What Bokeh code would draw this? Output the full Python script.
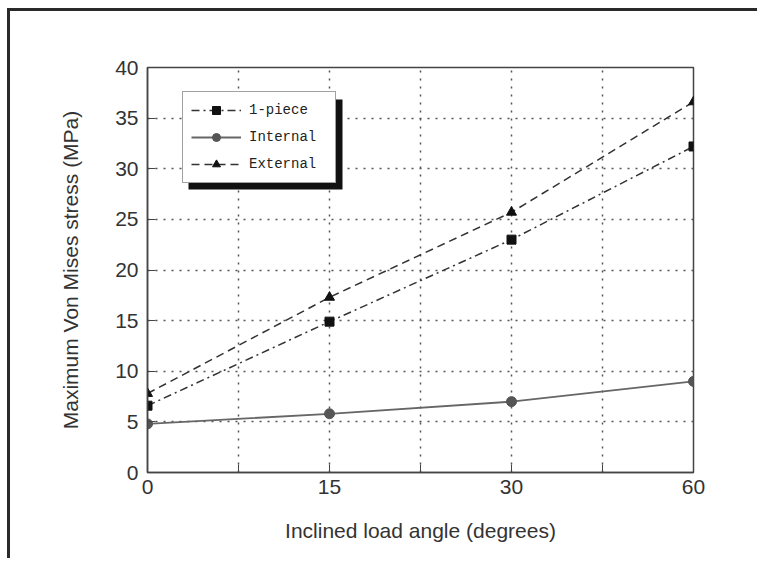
from bokeh.plotting import figure
from bokeh.models import Range1d, FixedTicker, Legend, LegendItem, BoxAnnotation
from bokeh.embed import file_html
from bokeh.resources import INLINE

# ---- data ----
angles = ["0", "15", "30", "60"]          # inclined load angle (degrees), evenly spaced categories
xpos = [0, 1, 2, 3]
one_piece = [6.6, 14.9, 23.0, 32.2]
internal = [4.8, 5.8, 7.0, 9.0]
external = [7.8, 17.3, 25.7, 36.6]
y_ticks = [0, 5, 10, 15, 20, 25, 30, 35, 40]

FW, FH = 546, 405  # frame size in px
W, H = 750, 550
ML, MT = 137, 56
p = figure(width=W, height=H, output_backend="svg", toolbar_location=None,
           x_range=Range1d(0, 3), y_range=Range1d(0, 40),
           min_border_left=ML, min_border_top=MT,
           min_border_right=W - ML - FW, min_border_bottom=H - MT - FH,
           background_fill_color="white", border_fill_color="white")
p.styles = {"border-left": "3px solid #2a2a2a", "border-top": "3px solid #2a2a2a",
            "margin-left": "7px", "margin-top": "8px"}
p.outline_line_color = "#444444"
p.outline_line_width = 1.5

font = "Liberation Sans"
for ax in (p.xaxis[0], p.yaxis[0]):
    ax.axis_line_color = "#444444"
    ax.axis_line_width = 1.5
    ax.major_tick_in = 8
    ax.major_tick_out = 0
    ax.minor_tick_in = 8
    ax.minor_tick_out = 0
    ax.major_tick_line_color = "#444444"
    ax.minor_tick_line_color = "#444444"
    ax.major_label_text_font = font
    ax.major_label_text_font_size = "21px"
    ax.major_label_text_color = "#333333"
    ax.axis_label_text_font = font
    ax.axis_label_text_font_size = "21px"
    ax.axis_label_text_font_style = "normal"
    ax.axis_label_text_color = "#333333"

p.xaxis.ticker = FixedTicker(ticks=xpos, minor_ticks=[0.5, 1.5, 2.5])
p.xaxis.major_label_overrides = {i: a for i, a in zip(xpos, angles)}
p.yaxis.ticker = FixedTicker(ticks=y_ticks, minor_ticks=[])
p.xaxis.axis_label = "Inclined load angle (degrees)"
p.yaxis.axis_label = "Maximum Von Mises stress (MPa)"
p.xaxis.major_label_standoff = 7
p.yaxis.major_label_standoff = 9
p.xaxis.axis_label_standoff = 22
p.yaxis.axis_label_standoff = 30

for g in (p.xgrid[0], p.ygrid[0]):
    g.grid_line_color = "#555555"
    g.grid_line_dash = "2 6"
    g.grid_line_width = 1.5
p.xgrid.minor_grid_line_color = "#555555"
p.xgrid.minor_grid_line_dash = "2 6"
p.xgrid.minor_grid_line_width = 1.5

l1 = p.line(xpos, one_piece, line_color="#333333", line_width=1.5, line_dash="8 4 2 4")
m1 = p.scatter(xpos, one_piece, marker="square", size=9, fill_color="#111111", line_color="#111111")
l2 = p.line(xpos, internal, line_color="#666666", line_width=1.8)
m2 = p.scatter(xpos, internal, marker="circle", size=10, fill_color="#555555", line_color="#555555")
l3 = p.line(xpos, external, line_color="#333333", line_width=1.5, line_dash="8 5")
m3 = p.scatter(xpos, external, marker="triangle", size=10, fill_color="#111111", line_color="#111111")

# legend shadow (decoration)
px_x = 3 / FW
px_y = 40 / FH
lx, ly, lw, lh, off = 35, 26, 154, 90, 6
shadow = BoxAnnotation(left=(lx + off) * px_x, right=(lx + off + lw) * px_x,
                       top=40 - (ly + off) * px_y, bottom=40 - (ly + off + lh) * px_y,
                       fill_color="#111111", fill_alpha=1, line_color=None, level="annotation")
p.add_layout(shadow)

legend = Legend(items=[LegendItem(label="1-piece", renderers=[l1, m1]),
                       LegendItem(label="Internal", renderers=[l2, m2]),
                       LegendItem(label="External", renderers=[l3, m3])],
                location=(lx, FH - ly - lh), orientation="vertical",
                glyph_width=50, glyph_height=20, spacing=7, padding=8, margin=0,
                label_standoff=8, label_width=78,
                label_text_font="Liberation Mono", label_text_font_size="14px",
                label_text_color="#222222",
                border_line_color="#444444", border_line_width=1,
                background_fill_color="white", background_fill_alpha=1)
p.add_layout(legend, "center")

open("out.html", "w").write(file_html(p, INLINE))
